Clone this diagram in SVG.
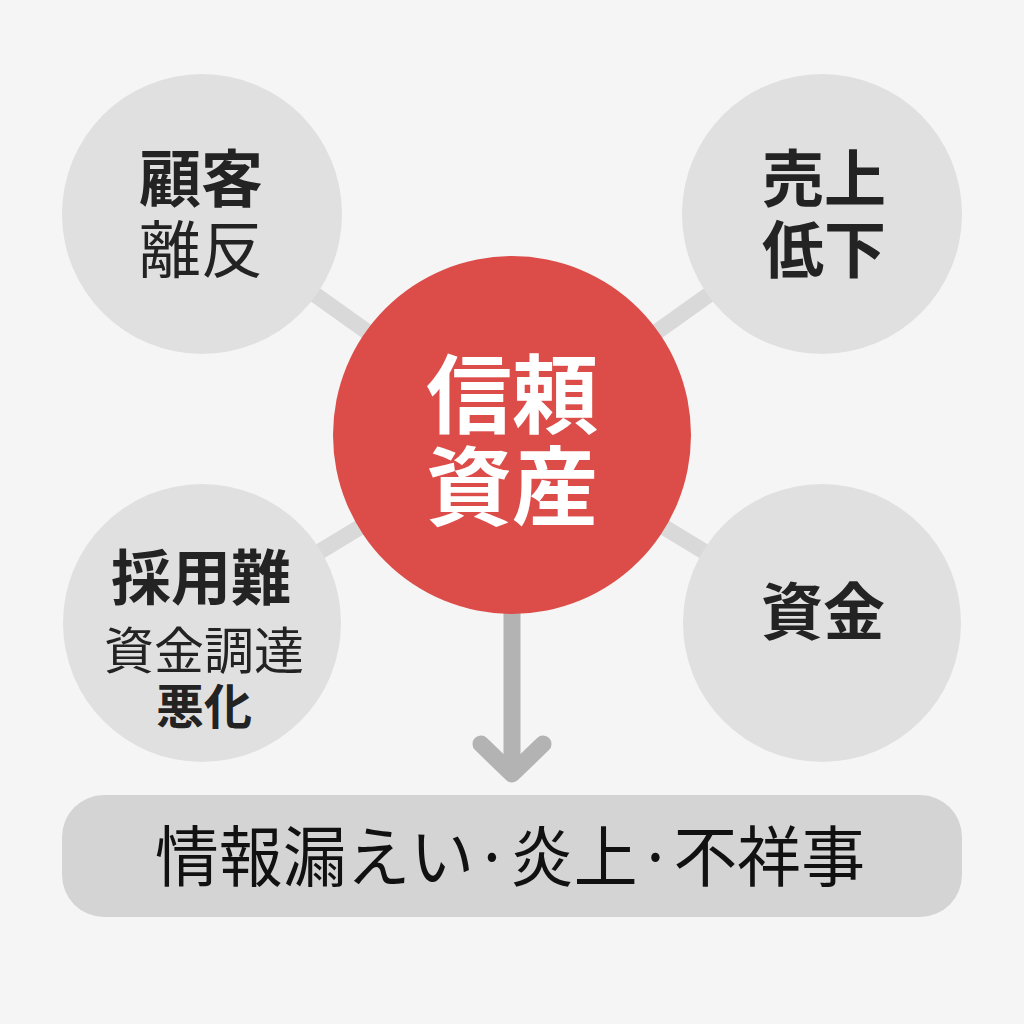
<svg xmlns="http://www.w3.org/2000/svg" width="1024" height="1024" viewBox="0 0 1024 1024">
<style>
.t{font-family:"Noto Sans CJK JP","Noto Sans CJK SC",sans-serif;text-anchor:middle;fill:#232323}
.b{font-weight:700}
.sat{fill:#e0e0e0}
.con{stroke:#d9d9d9;stroke-width:16;stroke-linecap:round;fill:none}
.arr{stroke:#b3b3b3;stroke-width:17;stroke-linecap:round;stroke-linejoin:round;fill:none}
</style>
<rect width="1024" height="1024" fill="#f5f5f5"/>
<g id="connectors">
<line class="con" x1="512" y1="435" x2="202" y2="214"/>
<line class="con" x1="512" y1="435" x2="822" y2="214"/>
<line class="con" x1="512" y1="435" x2="202" y2="623"/>
<line class="con" x1="512" y1="435" x2="822" y2="623"/>
<path class="arr" d="M512 600 V772 M481 744 L512 774 L543 744"/>
</g>
<g id="node-kokyaku">
<circle class="sat" cx="202" cy="214" r="140"/>
<text class="t b" x="201" y="202" font-size="62">顧客</text>
<text class="t" x="201" y="273" font-size="62">離反</text>
</g>
<g id="node-uriage">
<circle class="sat" cx="822" cy="214" r="140"/>
<text class="t b" x="824" y="202" font-size="62">売上</text>
<text class="t b" x="824" y="273" font-size="62">低下</text>
</g>
<g id="node-saiyo">
<circle class="sat" cx="202" cy="623" r="139"/>
<text class="t b" x="201" y="600" font-size="60">採用難</text>
<text class="t" x="204" y="669" font-size="50">資金調達</text>
<text class="t b" x="204" y="724" font-size="48">悪化</text>
</g>
<g id="node-shikin">
<circle class="sat" cx="822" cy="623" r="139"/>
<text class="t b" x="823" y="635" font-size="62">資金</text>
</g>
<g id="node-center">
<circle cx="512" cy="435" r="179" fill="#dc4c49"/>
<text class="t b" x="512" y="427" font-size="86" fill="#ffffff" style="fill:#fff">信頼</text>
<text class="t b" x="512" y="519" font-size="86" style="fill:#fff">資産</text>
</g>
<g id="node-bottom">
<rect x="62" y="795" width="900" height="122" rx="42" fill="#d4d4d4"/>
<text class="t" x="510" y="881" font-size="66" textLength="710" lengthAdjust="spacingAndGlyphs" style="fill:#111">情報漏えい·炎上·不祥事</text>
</g>
</svg>
